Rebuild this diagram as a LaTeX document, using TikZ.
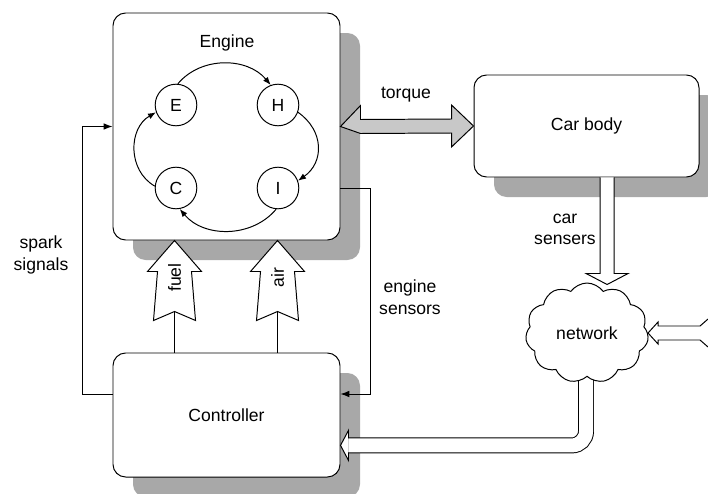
\documentclass[tikz,border=0pt]{standalone}
\usepackage{fontspec}
\setmainfont{Liberation Sans}
\usetikzlibrary{arrows.meta,positioning,calc,shadows,shapes.symbols}
\definecolor{shadowgrey}{HTML}{A8A8A8}
\definecolor{torquegrey}{HTML}{C8C8C8}
\tikzset{block/.style={draw,rounded corners=9pt,fill=white,line width=0.7pt,
 drop shadow={shadow xshift=0.5cm,shadow yshift=-0.5cm,opacity=1,fill=shadowgrey}},
 state/.style={draw,circle,minimum size=1.04cm,inner sep=0pt,line width=0.7pt},
 cyc/.style={-{Latex[length=2mm]},line width=0.7pt},
 sig/.style={-{Latex[length=2.2mm]},line width=0.7pt},
 hollow/.style={draw,fill=white,line width=0.7pt},
 shaft/.style={line width=0.7pt,double distance=0.35cm}}

\begin{document}
\begin{tikzpicture}[font=\fontsize{12.5}{15.3}\selectfont]
\useasboundingbox (0,0) rectangle (17.7,-12.325);
\node[block,minimum width=5.675cm,minimum height=5.675cm] (engine) at (5.6625,-3.1625) {};
\node (enginelbl) at (5.675,-1.075) {Engine};
\node[block,minimum width=5.625cm,minimum height=2.55cm] (carbody) at (14.6625,-3.15) {Car body};
\node[block,minimum width=5.675cm,minimum height=3.1cm] (controller) at (5.6625,-10.375) {Controller};
% engine cycle
\node[state] (E) at (4.4,-2.625) {E};
\node[state] (H) at (6.95,-2.625) {H};
\node[state] (C) at (4.4,-4.7) {C};
\node[state] (I) at (6.95,-4.7) {I};
\draw[cyc] (E.85) to[out=50,in=130] (H.110);
\draw[cyc] (H.-20) to[out=-35,in=35,looseness=1.2] (I.20);
\draw[cyc] (I.-95) to[out=-130,in=-50] (C.-80);
\draw[cyc] (C.175) to[out=150,in=-150,looseness=1.1] (E.200);
% torque
\draw[fill=torquegrey,line width=0.7pt] (engine.east) -- ++(0.5,0.525) -- ++(0,-0.35)
 -- ([shift={(-0.55,0.175)}]carbody.west) -- ++(0,0.35) -- (carbody.west) -- ++(-0.55,-0.525)
 -- ++(0,0.35) -- ([shift={(0.5,-0.175)}]engine.east) -- cycle;
\node (torquelbl) at (10.15,-2.375) {torque};
% fuel and air
\foreach \xx/\txt in {1.55/fuel,4.125/air}{
 \coordinate (\txt tip) at ([xshift=\xx cm]engine.south west);
 \draw[hollow] (\txt tip) -- ++(-0.675,-0.775) -- ++(0.25,0) -- ++(-0.1,-1.225) -- ++(0.525,0.225)
  -- ++(0.525,-0.225) -- ++(-0.1,1.225) -- ++(0.25,0) -- cycle;
 \node[rotate=90,inner sep=0pt] (\txt) at ([yshift=-0.925cm]\txt tip) {\txt};
 \draw[line width=0.7pt] ([yshift=-1.775cm]\txt tip) -- (\txt tip |- controller.north);
}
% signals
\draw[sig] ([yshift=5.25mm]controller.west) -- ++(-0.75,0) |- (engine.west);
\node[align=center] (sparklbl) at (1.025,-6.375) {spark\\signals};
\draw[sig] ([yshift=-15.5mm]engine.east) -- ++(0.75,0) |- ([yshift=5.25mm]controller.east);
\node[align=center] (senslbl) at (10.25,-7.425) {engine\\sensors};
% network
\coordinate (ctrltip) at ([yshift=-7.6mm]controller.east);
\draw[shaft,rounded corners=0.35cm] (14.65,-8.325) |- ([xshift=2mm]ctrltip);
\draw[hollow] ([shift={(0.2,0.175)}]ctrltip) -- ++(0,0.2) -- (ctrltip) -- ++(0.2,-0.375) -- ++(0,0.2);
\node[cloud,draw,fill=white,line width=0.7pt,cloud puffs=11,cloud puff arc=110,aspect=1.2,
 minimum width=3.075cm,minimum height=2.5cm] (network) at (14.675,-8.325) {network};
\draw[hollow] ([xshift=3.4mm]carbody.south) -- ++(0,-2.4) -- ++(-0.35,0) -- ++(0.525,-0.275)
 -- ++(0.525,0.275) -- ++(-0.35,0) -- ++(0,2.4);
\node[align=center] (carsenslbl) at (14.125,-5.7375) {car\\sensers};
\draw[hollow] ([shift={(1.5,0.35)}]network.east) -- ++(-0.2,-0.175) -- ++(-1.05,0) -- ++(0,0.1)
 -- (network.east) -- ++(0.25,-0.275) -- ++(0,0.1) -- ++(1.05,0) -- ++(0.2,-0.175);
\end{tikzpicture}
\end{document}
